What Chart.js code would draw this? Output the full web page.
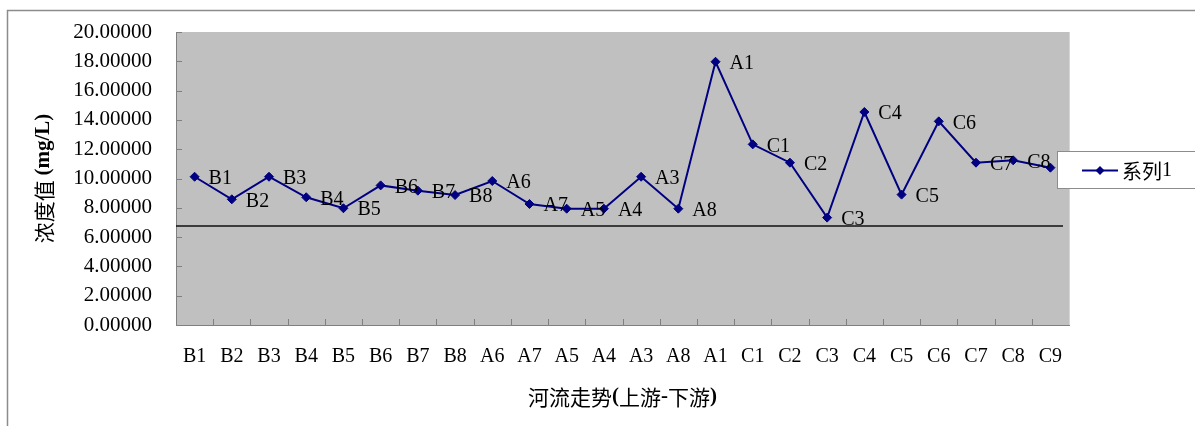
<!DOCTYPE html>
<html>
<head>
<meta charset="utf-8">
<script src="https://cdn.jsdelivr.net/npm/chart.js@4.4.1/dist/chart.umd.min.js"></script>
<style>
  html, body { margin: 0; padding: 0; background: #ffffff; }
  #wrap { width: 1195px; height: 426px; position: relative; }
</style>
</head>
<body>
<div id="wrap"><canvas id="chart" width="1195" height="426"></canvas></div>
<script>
// Sampling sites, ordered from upstream to downstream
const sites = ['B1','B2','B3','B4','B5','B6','B7','B8','A6','A7','A5','A4','A3','A8','A1','C1','C2','C3','C4','C5','C6','C7','C8','C9'];
// Measured concentration (mg/L) at each site
const concentration = [10.12, 8.58, 10.12, 8.72, 7.97, 9.53, 9.17, 8.87, 9.83, 8.26, 7.94, 7.94, 10.12, 7.94, 17.97, 12.33, 11.08, 7.33, 14.54, 8.90, 13.90, 11.08, 11.24, 10.74];
// Reference level drawn as a horizontal line
const standardLevel = 6.75;
// Value axis ticks
const yTicks = { min: 0, max: 20, step: 2 };
const seriesName = '系列1';
const xTitle = [['河流走势', 'cjk'], ['(', 'latinBold'], ['上游', 'cjk'], ['-', 'latinBold'], ['下游', 'cjk'], [')', 'latinBold']];
const yTitle = [['浓度值 ', 'cjk'], ['(mg/L)', 'latinBold']];

const SERIF = '"Liberation Serif", "Times New Roman", serif';
const CJK = '"Noto Sans CJK SC", sans-serif';
const fonts = {
  cjk: '21px ' + CJK,
  latinBold: 'bold 21px ' + SERIF,
  latin: '20px ' + SERIF,
  legendCjk: '20px ' + CJK
};
const LINE = '#000080';

function drawSegments(ctx, segs, cx, cy) {
  let total = 0;
  const widths = segs.map(([t, f]) => { ctx.font = fonts[f]; const w = ctx.measureText(t).width; total += w; return w; });
  let x = cx - total / 2;
  ctx.textAlign = 'left';
  ctx.textBaseline = 'middle';
  segs.forEach(([t, f], i) => { ctx.font = fonts[f]; ctx.fillText(t, x, cy); x += widths[i]; });
}

const decor = {
  id: 'decor',
  beforeDraw(chart) {
    const { ctx, chartArea: a } = chart;
    ctx.save();
    ctx.fillStyle = '#ffffff';
    ctx.fillRect(0, 0, chart.width, chart.height);
    // outer frame
    ctx.strokeStyle = '#8c8c8c';
    ctx.lineWidth = 1.5;
    ctx.beginPath();
    ctx.moveTo(7.5, chart.height);
    ctx.lineTo(7.5, 10.5);
    ctx.lineTo(chart.width, 10.5);
    ctx.stroke();
    // plot area
    ctx.fillStyle = '#c0c0c0';
    ctx.fillRect(a.left, a.top, a.right - a.left, a.bottom - a.top);
    ctx.strokeStyle = '#d6d6d6';
    ctx.lineWidth = 1;
    ctx.beginPath();
    ctx.moveTo(a.right + 0.5, a.top);
    ctx.lineTo(a.right + 0.5, a.bottom);
    ctx.stroke();
    ctx.restore();
  },
  beforeDatasetsDraw(chart) {
    const { ctx, chartArea: a, scales: { x, y } } = chart;
    ctx.save();
    // inward tick marks
    ctx.strokeStyle = '#808080';
    ctx.lineWidth = 1;
    ctx.beginPath();
    y.ticks.forEach(t => {
      const py = Math.round(y.getPixelForValue(t.value)) + 0.5;
      ctx.moveTo(a.left, py);
      ctx.lineTo(a.left + 6, py);
    });
    for (let i = 1; i < sites.length; i++) {
      const px = Math.round((x.getPixelForValue(i - 1) + x.getPixelForValue(i)) / 2) + 0.5;
      ctx.moveTo(px, a.bottom);
      ctx.lineTo(px, a.bottom - 6);
    }
    ctx.stroke();
    // reference level
    const ly = y.getPixelForValue(standardLevel);
    ctx.strokeStyle = '#111111';
    ctx.lineWidth = 1.5;
    ctx.beginPath();
    ctx.moveTo(a.left, ly);
    ctx.lineTo(a.right - 6, ly);
    ctx.stroke();
    ctx.restore();
  },
  afterDatasetsDraw(chart) {
    const { ctx } = chart;
    const meta = chart.getDatasetMeta(0);
    ctx.save();
    ctx.fillStyle = '#000000';
    ctx.font = fonts.latin;
    ctx.textAlign = 'left';
    ctx.textBaseline = 'middle';
    meta.data.forEach((pt, i) => {
      ctx.fillText(sites[i], pt.x + 14, pt.y + 2);
    });
    ctx.restore();
  },
  afterDraw(chart) {
    const { ctx, chartArea: a } = chart;
    ctx.save();
    ctx.fillStyle = '#000000';
    // axis titles
    drawSegments(ctx, xTitle, (a.left + a.right) / 2, 397);
    ctx.translate(44, (a.top + a.bottom) / 2);
    ctx.rotate(-Math.PI / 2);
    drawSegments(ctx, yTitle, 0, 0);
    ctx.restore();

    // legend box
    ctx.save();
    ctx.fillStyle = '#ffffff';
    ctx.fillRect(1057, 151, chart.width - 1057, 38);
    ctx.strokeStyle = '#8c8c8c';
    ctx.lineWidth = 1;
    ctx.strokeRect(1057.5, 151.5, chart.width, 37);
    ctx.strokeStyle = LINE;
    ctx.lineWidth = 2;
    ctx.beginPath();
    ctx.moveTo(1082, 170.5);
    ctx.lineTo(1118, 170.5);
    ctx.stroke();
    ctx.fillStyle = LINE;
    ctx.beginPath();
    ctx.moveTo(1100, 166);
    ctx.lineTo(1104.5, 170.5);
    ctx.lineTo(1100, 175);
    ctx.lineTo(1095.5, 170.5);
    ctx.closePath();
    ctx.fill();
    ctx.fillStyle = '#000000';
    ctx.textAlign = 'left';
    ctx.textBaseline = 'middle';
    ctx.font = fonts.legendCjk;
    ctx.fillText('系列', 1122, 171);
    const w = ctx.measureText('系列').width;
    ctx.font = fonts.latin;
    ctx.fillText('1', 1122 + w, 171);
    ctx.restore();
  }
};

new Chart(document.getElementById('chart'), {
  type: 'line',
  data: {
    labels: sites,
    datasets: [{
      label: seriesName,
      data: concentration,
      borderColor: LINE,
      backgroundColor: LINE,
      borderWidth: 2,
      pointStyle: 'rectRot',
      pointRadius: 4.5,
      pointBorderWidth: 1,
      pointBorderColor: LINE,
      pointBackgroundColor: LINE,
      tension: 0,
      fill: false
    }]
  },
  options: {
    responsive: false,
    animation: false,
    devicePixelRatio: 1,
    layout: { padding: { top: 32, right: 126, left: 0, bottom: 0 } },
    plugins: {
      legend: { display: false },
      tooltip: { enabled: false }
    },
    scales: {
      x: {
        type: 'category',
        offset: true,
        grid: { display: false, drawTicks: false },
        border: { display: true, color: '#808080', width: 1 },
        ticks: {
          color: '#000000',
          font: { family: SERIF, size: 20 },
          padding: 20,
          maxRotation: 0,
          autoSkip: false
        },
        afterFit(scale) {
          scale.height = 101;
          scale.paddingLeft = 0;
          scale.paddingRight = 0;
        }
      },
      y: {
        min: yTicks.min,
        max: yTicks.max,
        grid: { display: false, drawTicks: false },
        border: { display: true, color: '#808080', width: 1 },
        ticks: {
          stepSize: yTicks.step,
          color: '#000000',
          font: { family: SERIF, size: 21 },
          padding: 24,
          callback: v => Number(v).toFixed(5)
        },
        afterFit(scale) {
          scale.width = 176;
          scale.paddingTop = 0;
          scale.paddingBottom = 0;
        }
      }
    }
  },
  plugins: [decor]
});
</script>
</body>
</html>
